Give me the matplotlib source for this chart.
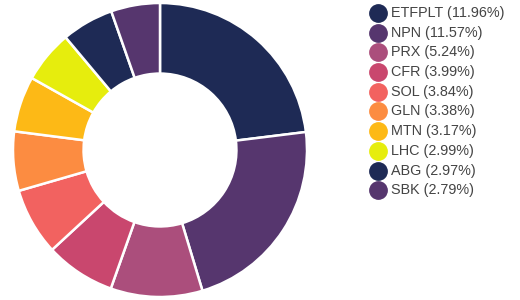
import matplotlib.pyplot as plt

labels = ["ETFPLT", "NPN", "PRX", "CFR", "SOL", "GLN", "MTN", "LHC", "ABG", "SBK"]
weights = [11.96, 11.57, 5.24, 3.99, 3.84, 3.38, 3.17, 2.99, 2.97, 2.79]
colors = ["#1e2a55", "#56366e", "#ab4e7c", "#c9476e", "#f26260",
          "#fc8c41", "#fdb916", "#e6ed0d", "#1e2a55", "#56366e"]

plt.rcParams['font.family'] = ['Liberation Sans', 'DejaVu Sans']

fig = plt.figure(figsize=(5.2, 3.0), dpi=100)
ax = fig.add_axes([13 / 520, 3 / 300, 294 / 520, 294 / 300])
ax.pie(weights, colors=colors, startangle=90, counterclock=False,
       wedgeprops=dict(width=0.48, edgecolor="white", linewidth=1.8))
ax.set_xlim(-1.0, 1.0)
ax.set_ylim(-1.0, 1.0)
ax.set_aspect("equal")

# legend drawn by hand
for i, (lab, w, c) in enumerate(zip(labels, weights, colors)):
    y = 1 - (13 + i * 19.7) / 300
    fig.lines.append(plt.Line2D([378 / 520], [y], marker="o", markersize=12.5,
                                color=c, transform=fig.transFigure))
    fig.text(391 / 520, y, "{} ({:.2f}%)".format(lab, w), fontsize=10.4,
             color="#444444", va="center", ha="left")

fig.savefig("out.png", dpi=100)
